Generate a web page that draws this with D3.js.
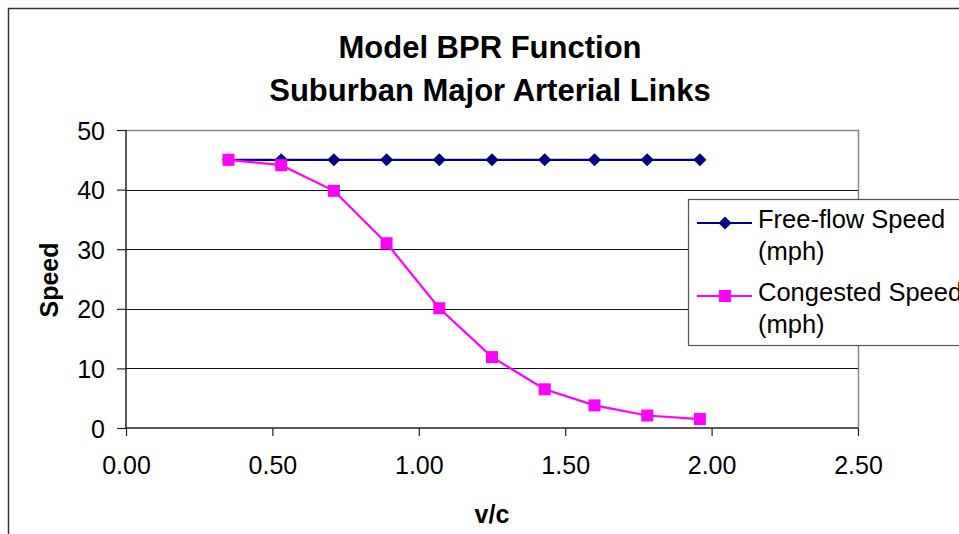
<!DOCTYPE html>
<html>
<head>
<meta charset="utf-8">
<script src="https://cdn.jsdelivr.net/npm/d3@7"></script>
<style>
  body { margin: 0; background: #fff; }
  svg { display: block; font-family: "Liberation Sans", Arial, sans-serif; }
</style>
</head>
<body>
<svg id="chart" width="959" height="534"></svg>
<script>
// data
var vc = [0.35, 0.53, 0.71, 0.89, 1.07, 1.25, 1.43, 1.60, 1.78, 1.96]
var freeFlow = [45, 45, 45, 45, 45, 45, 45, 45, 45, 45]
var congested = [45.0, 44.1, 39.8, 31.0, 20.1, 11.9, 6.5, 3.8, 2.1, 1.5]
var xTicks = [0, 0.5, 1, 1.5, 2, 2.5]
var yTicks = [0, 10, 20, 30, 40, 50]
var titleLines = ["Model BPR Function", "Suburban Major Arterial Links"]
var seriesNames = [["Free-flow Speed", "(mph)"], ["Congested Speed", "(mph)"]]

var svg = d3.select("#chart")

// plot box (note: "top" is taken by window.top, so use plotTop)
var plotLeft = 126, plotRight = 858, plotTop = 130, plotBottom = 428

var x = d3.scaleLinear().domain([0, 2.5]).range([plotLeft, plotRight])
var y = d3.scaleLinear().domain([0, 50]).range([plotBottom, plotTop])

// outer chart frame (runs off the right and bottom edge)
svg.append("rect")
  .attr("x", 8.5).attr("y", 8.5)
  .attr("width", 1000).attr("height", 600)
  .attr("fill", "none")
  .attr("stroke", "#333")
  .attr("stroke-width", 1.5)

// title
svg.selectAll("text.title")
  .data(titleLines)
  .enter()
  .append("text")
    .attr("class", "title")
    .attr("x", 490)
    .attr("y", function(d, i){ return 58 + i*43 })
    .attr("text-anchor", "middle")
    .style("font-size", "31px")
    .style("font-weight", "bold")
    .text(function(d){ return d })

// plot frame: gray top and right
svg.append("path")
  .attr("d", "M" + plotLeft + "," + (plotTop + 0.5) + "H" + (plotRight + 0.5) + "V" + plotBottom)
  .attr("fill", "none")
  .attr("stroke", "#888")
  .attr("stroke-width", 1.5)

// gridlines
svg.selectAll("line.grid")
  .data(yTicks.filter(function(d){ return d > 0 && d < 50 }))
  .enter()
  .append("line")
    .attr("class", "grid")
    .attr("x1", plotLeft).attr("x2", plotRight)
    .attr("y1", function(d){ return Math.round(y(d)) + 0.5 })
    .attr("y2", function(d){ return Math.round(y(d)) + 0.5 })
    .attr("stroke", "#111")
    .attr("stroke-width", 1.2)

// axes
var yAxis = d3.axisLeft(y).tickValues(yTicks).tickSize(9)
var xAxis = d3.axisBottom(x).tickValues(xTicks).tickSize(8)
  .tickFormat(d3.format(".2f"))

var gy = svg.append("g").attr("transform", "translate(" + plotLeft + ",0)").call(yAxis)
var gx = svg.append("g").attr("transform", "translate(0," + plotBottom + ")").call(xAxis)

gy.select(".domain").attr("d", "M0," + plotTop + "V" + plotBottom).attr("stroke", "#222").attr("stroke-width", 1.5)
gx.select(".domain").attr("d", "M" + plotLeft + ",0H" + plotRight).attr("stroke", "#222").attr("stroke-width", 1.5)
svg.selectAll(".tick line").attr("stroke", "#222").attr("stroke-width", 1.2)
svg.selectAll(".tick text")
  .attr("fill", "#000")
  .style("font-size", "25px")
  .style("font-family", "Liberation Sans, Arial, sans-serif")
gy.selectAll(".tick text").attr("x", -21).attr("dy", "0.36em")
gx.selectAll(".tick text").attr("y", 46).attr("dy", 0)

// axis titles
svg.append("text")
  .attr("x", 492).attr("y", 523)
  .attr("text-anchor", "middle")
  .style("font-size", "25px").style("font-weight", "bold")
  .text("v/c")

svg.append("text")
  .attr("transform", "translate(58,280) rotate(-90)")
  .attr("text-anchor", "middle")
  .style("font-size", "25px").style("font-weight", "bold")
  .text("Speed")

// series
var line = d3.line()
  .x(function(d){ return x(d[0]) })
  .y(function(d){ return y(d[1]) })

var freePts = vc.map(function(v, i){ return [v, freeFlow[i]] })
var congPts = vc.map(function(v, i){ return [v, congested[i]] })

var diamond = d3.symbol().type(d3.symbolDiamond2).size(110)

svg.append("path").datum(freePts)
  .attr("d", line).attr("fill", "none")
  .attr("stroke", "#000080").attr("stroke-width", 2.2)

svg.selectAll("path.diamond")
  .data(freePts)
  .enter()
  .append("path")
    .attr("class", "diamond")
    .attr("d", diamond)
    .attr("transform", function(d){ return "translate(" + x(d[0]) + "," + y(d[1]) + ")" })
    .attr("fill", "#000080")

svg.append("path").datum(congPts)
  .attr("d", line).attr("fill", "none")
  .attr("stroke", "#FF00FF").attr("stroke-width", 2.2)

var sq = 12
svg.selectAll("rect.square")
  .data(congPts)
  .enter()
  .append("rect")
    .attr("class", "square")
    .attr("x", function(d){ return x(d[0]) - sq/2 })
    .attr("y", function(d){ return y(d[1]) - sq/2 })
    .attr("width", sq).attr("height", sq)
    .attr("fill", "#FF00FF")

// legend
var lg = svg.append("g").attr("transform", "translate(688,199)")
lg.append("rect")
  .attr("x", 0.5).attr("y", 0.5)
  .attr("width", 300).attr("height", 146)
  .attr("fill", "#fff")
  .attr("stroke", "#555").attr("stroke-width", 1.2)

var legColors = ["#000080", "#FF00FF"]
var rowY = [24, 97]

lg.selectAll("line.key")
  .data(seriesNames)
  .enter()
  .append("line")
    .attr("x1", 9).attr("x2", 64)
    .attr("y1", function(d, i){ return rowY[i] })
    .attr("y2", function(d, i){ return rowY[i] })
    .attr("stroke", function(d, i){ return legColors[i] })
    .attr("stroke-width", 2.2)

lg.append("path")
  .attr("d", diamond)
  .attr("transform", "translate(37," + rowY[0] + ")")
  .attr("fill", legColors[0])

lg.append("rect")
  .attr("x", 37 - sq/2).attr("y", rowY[1] - sq/2)
  .attr("width", sq).attr("height", sq)
  .attr("fill", legColors[1])

lg.selectAll("text.key")
  .data(seriesNames)
  .enter()
  .append("text")
    .attr("x", 70)
    .attr("y", function(d, i){ return rowY[i] + 5 })
    .style("font-size", "25.5px")
    .each(function(d){
      var t = d3.select(this)
      d.forEach(function(s, j){
        t.append("tspan").attr("x", 70).attr("dy", j === 0 ? 0 : 32).text(s)
      })
    })
</script>
</body>
</html>
